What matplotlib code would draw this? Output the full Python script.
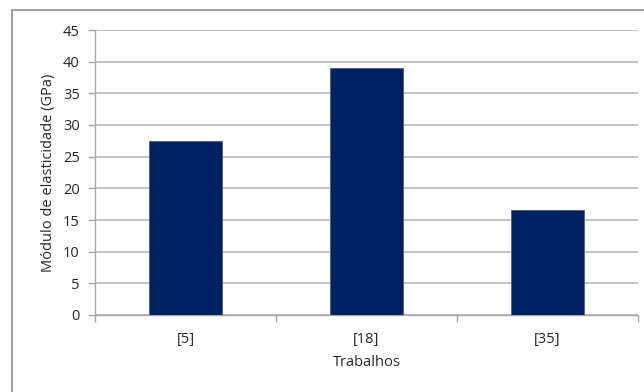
import matplotlib
matplotlib.use("Agg")
import matplotlib.pyplot as plt
from matplotlib.patches import Rectangle
from matplotlib.ticker import FixedLocator, NullFormatter, FixedFormatter

categories = ["[5]", "[18]", "[35]"]
values = [27.4, 39.0, 16.6]
yticks = [0, 5, 10, 15, 20, 25, 30, 35, 40, 45]

plt.rcParams['font.family'] = ['Open Sans', 'DejaVu Sans']

W, H = 644, 392
fig = plt.figure(figsize=(W / 100, H / 100), dpi=100)
fig.patch.set_facecolor('white')

# outer border
fig.patches.append(Rectangle((12 / W, -0.1), 1.2, (H - 10) / H + 0.1,
                             transform=fig.transFigure, fill=False,
                             edgecolor='#8c8c8c', linewidth=1.2))

left, right = 95, 638
top, bottom = 30, 315
ax = fig.add_axes([left / W, 1 - bottom / H, (right - left) / W, (bottom - top) / H])

x = list(range(len(categories)))
ax.bar(x, values, width=0.4, color='#002060', edgecolor='#4a5f8a', linewidth=0.6, zorder=3)

ax.set_xlim(-0.5, len(categories) - 0.5)
ax.set_ylim(0, 45)
ax.set_yticks(yticks)
ax.yaxis.grid(True, color='#b8b8b8', linewidth=1.2, zorder=0)
ax.set_axisbelow(True)

ax.xaxis.set_major_locator(FixedLocator([-0.5, 0.5, 1.5, 2.5]))
ax.xaxis.set_major_formatter(NullFormatter())
ax.xaxis.set_minor_locator(FixedLocator(x))
ax.xaxis.set_minor_formatter(FixedFormatter(categories))
ax.tick_params(axis='x', which='major', length=5, color='#a6a6a6', width=1)
ax.tick_params(axis='x', which='minor', length=0, pad=12, labelsize=10.5, labelcolor='#262626')
ax.tick_params(axis='y', length=5, color='#a6a6a6', width=1, labelsize=10.5,
               labelcolor='#262626', pad=6)

for s in ['top', 'right']:
    ax.spines[s].set_visible(False)
for s in ['left', 'bottom']:
    ax.spines[s].set_color('#a6a6a6')
    ax.spines[s].set_linewidth(1)

ax.set_xlabel('Trabalhos', fontsize=10.5, color='#262626', labelpad=6)
ax.set_ylabel('Módulo de elasticidade (GPa)', fontsize=10.5, color='#262626', labelpad=5)

fig.savefig('out.png', dpi=100)
